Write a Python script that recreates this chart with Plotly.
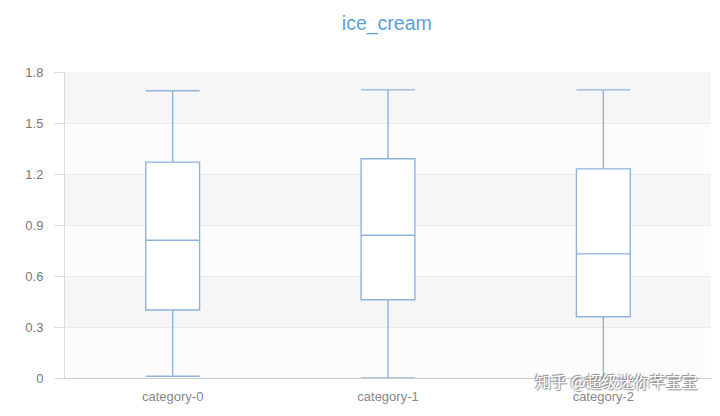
import plotly.graph_objects as go

categories = ["category-0", "category-1", "category-2"]
lower = [0.01, 0.0, 0.0]
q1 = [0.40, 0.46, 0.36]
median = [0.81, 0.84, 0.73]
q3 = [1.27, 1.29, 1.23]
upper = [1.69, 1.695, 1.695]
y_ticks = [0, 0.3, 0.6, 0.9, 1.2, 1.5, 1.8]

box_color = "#8fb3dc"
FONT = "Liberation Sans, Arial, Helvetica"

fig = go.Figure()
fig.add_trace(go.Box(
    x=categories,
    q1=q1, median=median, q3=q3,
    lowerfence=lower, upperfence=upper,
    fillcolor="white",
    line=dict(color=box_color, width=1.4),
    whiskerwidth=1,
    width=0.25,
    boxpoints=False,
    showlegend=False,
    hoverinfo="y",
))

shapes = []
for i in range(len(y_ticks) - 1):
    shade = "#f6f6f6" if (len(y_ticks) - 2 - i) % 2 == 0 else "#fcfcfc"
    shapes.append(dict(type="rect", xref="paper", yref="y", x0=0, x1=1,
                       y0=y_ticks[i], y1=y_ticks[i + 1],
                       fillcolor=shade, line=dict(width=0), layer="below"))

# page body has an 8px margin, so the figure is sized to fit the window
fig.update_layout(
    width=712, height=408,
    margin=dict(l=57, r=9, t=64, b=38),
    paper_bgcolor="white",
    plot_bgcolor="white",
    title=dict(text="ice_cream", x=0.532, xanchor="center", y=0.963, yanchor="middle",
               font=dict(family=FONT, size=19.5, color="#5a9fd8")),
    font=dict(family=FONT, color="#888888", size=13),
    shapes=shapes,
    xaxis=dict(
        type="category", range=[-0.5, 2.5],
        showgrid=False, showline=True, linecolor="#cccccc", linewidth=1,
        ticks="", tickfont=dict(size=13, color="#888888"),
        ticklabelstandoff=6,
        zeroline=False,
    ),
    yaxis=dict(
        range=[0, 1.8], tickvals=y_ticks, ticktext=["0", "0.3", "0.6", "0.9", "1.2", "1.5", "1.8"],
        showgrid=True, gridcolor="#ececec", gridwidth=1,
        showline=True, linecolor="#dddddd", linewidth=1,
        ticks="outside", ticklen=10, tickcolor="#dddddd",
        tickfont=dict(size=13, color="#777777"),
        ticklabelstandoff=8,
        zeroline=False,
    ),
    annotations=[dict(
        text="知乎 @超级迷你芊宝宝", xref="paper", yref="paper",
        x=0.983, y=-0.01, xanchor="right", yanchor="middle", showarrow=False,
        font=dict(family="Noto Sans CJK SC", size=16, color="#ffffff",
                  shadow="1px 1px 1px #888, -1px -1px 1px #888"),
    )],
)

fig.write_html("out.html")
